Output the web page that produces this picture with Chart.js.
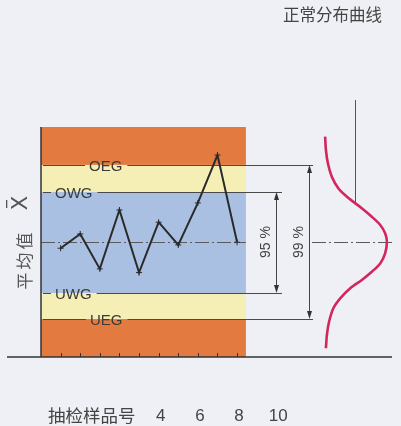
<!DOCTYPE html>
<html>
<head>
<meta charset="utf-8">
<script src="https://cdn.jsdelivr.net/npm/chart.js@4"></script>
<style>
  html, body { margin: 0; padding: 0; background: #eff0f5; }
  #wrap { width: 401px; height: 426px; }
</style>
</head>
<body>
<div id="wrap"><canvas id="myChart"></canvas></div>
<script>
// sample numbers and their means
const samples = [1, 2, 3, 4, 5, 6, 7, 8, 9, 10];
const means = [47.3, 53.5, 38.3, 63.9, 36.7, 58.6, 48.7, 67, 87.8, 49.9];

// control limits (upper/lower intervention + warning limits)
const limitNames = ["OEG", "OWG", "UWG", "UEG"];
const limitValues = [83.5, 71.7, 27.8, 16.5];
const centerValue = 50;

// normal distribution curve
const curveX = [14.49, 14.53, 14.63, 14.83, 15.17, 15.6, 15.85, 16.36, 16.87, 17.3, 17.55, 17.64,
  17.55, 17.3, 16.87, 16.36, 15.77, 15.26, 14.91, 14.69, 14.58, 14.53];
const curveY = [95.8, 90.0, 84.2, 78.4, 73.3, 69.7, 68.0, 64.7, 61.0, 57.4, 53.8, 50.1,
  45.1, 40.7, 37.1, 33.5, 29.9, 25.5, 21.2, 15.3, 9.6, 3.8];

const xTickLabels = ["4", "6", "8", "10"];

const boxEnd = 10.45; // right edge of the coloured box, in sample units

const ORANGE = "#e37b41";
const YELLOW = "#f5efb6";
const BLUE = "#a9c0e3";
const INK = "#3a3a3a";

function arrowHead(ctx, x, yTip, dir) {
  ctx.beginPath();
  ctx.moveTo(x, yTip);
  ctx.lineTo(x - 2.5, yTip - dir * 8);
  ctx.lineTo(x + 2.5, yTip - dir * 8);
  ctx.closePath();
  ctx.fill();
}

const controlPlugin = {
  id: "controlBands",
  beforeDatasetsDraw(chart) {
    const { ctx, chartArea, scales: { x, y } } = chart;
    const left = x.getPixelForValue(0);
    const right = x.getPixelForValue(boxEnd);
    const edges = [100, ...limitValues, 0];
    const bandColors = [ORANGE, YELLOW, BLUE, YELLOW, ORANGE];

    ctx.save();
    bandColors.forEach((c, i) => {
      const top = y.getPixelForValue(edges[i]);
      const bot = y.getPixelForValue(edges[i + 1]);
      ctx.fillStyle = c;
      ctx.fillRect(left, top, right - left, bot - top);
    });

    // limit lines, broken around their labels
    const labelLeft = [89, 55, 55, 90];
    const lineEnd = [313, 282, 282, 313];
    ctx.font = "15px 'Liberation Sans', Arial, sans-serif";
    ctx.textBaseline = "middle";
    ctx.strokeStyle = "#4a4a4a";
    ctx.lineWidth = 1;
    limitNames.forEach((name, i) => {
      const py = Math.round(y.getPixelForValue(limitValues[i])) + 0.5;
      const w = ctx.measureText(name).width;
      const tx = labelLeft[i];
      ctx.beginPath();
      ctx.moveTo(left + 2, py);
      ctx.lineTo(tx - 4, py);
      ctx.moveTo(tx + w + 5, py);
      ctx.lineTo(lineEnd[i], py);
      ctx.stroke();
      ctx.fillStyle = INK;
      ctx.fillText(name, tx, py + 1);
    });

    // centre line (dash-dot)
    const cy = Math.round(y.getPixelForValue(centerValue)) + 0.5;
    ctx.setLineDash([14, 3, 2, 3]);
    ctx.strokeStyle = "#5a5a5a";
    ctx.beginPath();
    ctx.moveTo(left, cy);
    ctx.lineTo(right, cy);
    ctx.moveTo(312, cy);
    ctx.lineTo(393, cy);
    ctx.stroke();
    ctx.setLineDash([]);

    // left border and base line
    ctx.strokeStyle = "#333";
    ctx.lineWidth = 1.5;
    ctx.beginPath();
    ctx.moveTo(left, chartArea.top);
    ctx.lineTo(left, chartArea.bottom);
    ctx.moveTo(7, chartArea.bottom);
    ctx.lineTo(392, chartArea.bottom);
    ctx.stroke();

    // sample ticks
    ctx.lineWidth = 1;
    samples.forEach((s) => {
      const px = Math.round(x.getPixelForValue(s)) + 0.5;
      ctx.beginPath();
      ctx.moveTo(px, chartArea.bottom);
      ctx.lineTo(px, chartArea.bottom - 4);
      ctx.stroke();
    });

    // dimension arrows 95 % / 99 %
    ctx.fillStyle = "#333";
    ctx.strokeStyle = "#444";
    const dims = [
      { x: 276.5, a: limitValues[1], b: limitValues[2] },
      { x: 309.5, a: limitValues[0], b: limitValues[3] },
    ];
    dims.forEach((d) => {
      const t = y.getPixelForValue(d.a);
      const b = y.getPixelForValue(d.b);
      ctx.beginPath();
      ctx.moveTo(d.x, t + 6);
      ctx.lineTo(d.x, b - 6);
      ctx.stroke();
      arrowHead(ctx, d.x, t, -1);
      arrowHead(ctx, d.x, b, 1);
    });

    // leader line from the title to the curve
    ctx.strokeStyle = "#555";
    ctx.beginPath();
    ctx.moveTo(355.5, 100);
    ctx.lineTo(355.5, 203);
    ctx.stroke();
    ctx.restore();
  },
  afterDraw(chart) {
    const { ctx, scales: { x } } = chart;
    ctx.save();
    ctx.fillStyle = "#444";
    ctx.textBaseline = "middle";

    // title
    ctx.font = "16.5px 'Noto Sans CJK SC', sans-serif";
    ctx.textAlign = "left";
    ctx.fillText("正常分布曲线", 283, 15);

    // x axis caption and labels
    ctx.font = "17.5px 'Noto Sans CJK SC', sans-serif";
    ctx.fillText("抽检样品号", 48, 415);
    ctx.font = "17px 'Liberation Sans', Arial, sans-serif";
    ctx.textAlign = "center";
    xTickLabels.forEach((t, i) => {
      ctx.fillText(t, x.getPixelForValue(6 + 2 * i) + 2, 416);
    });

    // percent labels
    ctx.font = "14px 'Liberation Sans', Arial, sans-serif";
    [["95 %", 266.5], ["99 %", 299]].forEach(([t, px]) => {
      ctx.save();
      ctx.translate(px, 242);
      ctx.rotate(-Math.PI / 2);
      ctx.fillText(t, 0, 0);
      ctx.restore();
    });

    // y axis caption: 平均值 X̄
    ctx.save();
    ctx.translate(25, 261);
    ctx.rotate(-Math.PI / 2);
    ctx.fillStyle = "#555";
    ctx.font = "17px 'Noto Sans CJK SC', sans-serif";
    ["平", "均", "值"].forEach((ch, i) => ctx.fillText(ch, -20 + i * 20, 0));
    ctx.font = "21px 'DejaVu Sans', sans-serif";
    ctx.fillText("X", 58, -3);
    ctx.fillRect(53, -19, 8, 1.3);
    ctx.restore();
    ctx.restore();
  },
};

const ctx1 = document.getElementById("myChart").getContext("2d");

new Chart(ctx1, {
  type: "line",
  data: {
    datasets: [
      {
        label: "Mittelwert",
        data: samples.map((s, i) => ({ x: s, y: means[i] })),
        borderColor: "#2a2a2a",
        borderWidth: 2,
        pointStyle: "cross",
        pointRadius: 3,
        pointBorderWidth: 1,
        pointBorderColor: "#2a2a2a",
        tension: 0,
        clip: false,
      },
      {
        label: "Normalverteilung",
        data: curveX.map((cx, i) => ({ x: cx, y: curveY[i] })),
        borderColor: "#d4265c",
        borderWidth: 2.6,
        pointRadius: 0,
        tension: 0.3,
        clip: false,
      },
    ],
  },
  options: {
    responsive: true,
    maintainAspectRatio: false,
    animation: false,
    layout: {
      padding: { left: 41, right: 9, top: 127, bottom: 69 },
    },
    plugins: {
      legend: { display: false },
      tooltip: { enabled: false },
    },
    scales: {
      x: { type: "linear", min: 0, max: 17.9, display: false },
      y: { min: 0, max: 100, display: false },
    },
  },
  plugins: [controlPlugin],
});
</script>
</body>
</html>
